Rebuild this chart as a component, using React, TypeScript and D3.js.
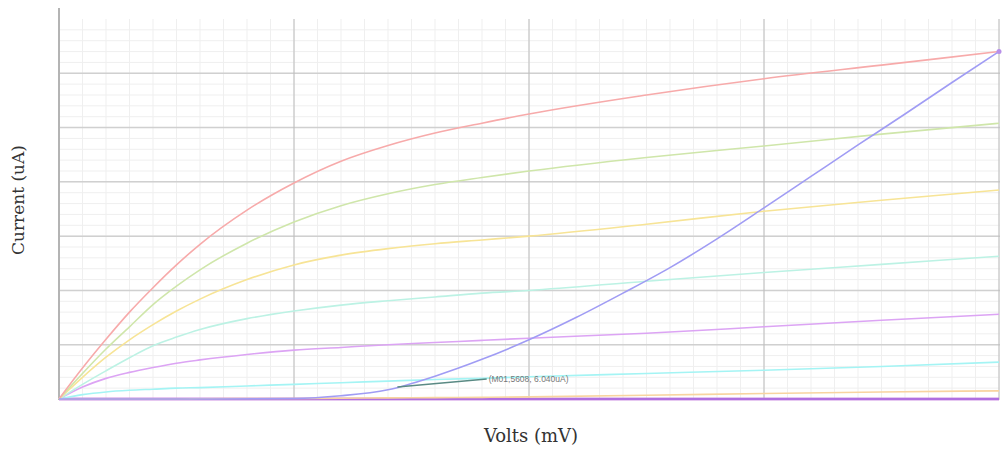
import React from 'react';
import * as d3 from 'd3';

// sweep points (major grid units on x, major grid units on y)
const sweep = [0, 0.1, 0.2, 0.3, 0.4, 0.5, 0.6, 0.8, 1.0, 1.2, 1.4, 1.6, 1.8, 2.0, 2.5, 3.0, 3.5, 4.0];

const redVals = [0, 0.57, 1.1, 1.6, 2.05, 2.47, 2.85, 3.48, 3.98, 4.38, 4.67, 4.9, 5.08, 5.25, 5.6, 5.9, 6.15, 6.4];
const greenVals = [0, 0.47, 0.92, 1.33, 1.74, 2.08, 2.38, 2.87, 3.26, 3.56, 3.78, 3.95, 4.08, 4.2, 4.45, 4.66, 4.88, 5.08];
const yellowVals = [0, 0.4, 0.77, 1.09, 1.37, 1.62, 1.84, 2.2, 2.47, 2.65, 2.77, 2.86, 2.93, 3.0, 3.22, 3.46, 3.66, 3.85];
const mintVals = [0, 0.27, 0.52, 0.76, 0.98, 1.14, 1.28, 1.48, 1.62, 1.73, 1.81, 1.88, 1.95, 2.0, 2.17, 2.33, 2.48, 2.63];
const violetVals = [0, 0.22, 0.38, 0.49, 0.58, 0.66, 0.72, 0.82, 0.9, 0.95, 1.0, 1.04, 1.08, 1.12, 1.21, 1.33, 1.45, 1.56];
const cyanVals = [0, 0.08, 0.13, 0.16, 0.18, 0.2, 0.21, 0.24, 0.27, 0.3, 0.33, 0.36, 0.38, 0.41, 0.47, 0.53, 0.6, 0.68];
const orangeVals = [0, 0, 0, 0, 0, 0, 0.005, 0.01, 0.01, 0.015, 0.02, 0.025, 0.03, 0.04, 0.07, 0.1, 0.13, 0.15];
const offVals = [0, 0, 0, 0, 0, 0, 0, 0, 0, 0, 0, 0, 0, 0, 0, 0, 0, 0];

const diodeX = [0, 0.5, 1.0, 1.2, 1.4, 1.6, 1.8, 2.0, 2.2, 2.4, 2.6, 2.8, 3.0, 3.2, 3.4, 3.6, 3.8, 4.0];
const diodeVals = [0, 0, 0.01, 0.06, 0.17, 0.42, 0.73, 1.09, 1.5, 1.95, 2.42, 2.95, 3.52, 4.1, 4.68, 5.25, 5.83, 6.4];

const seriesNames = ['off1', 'off2', 'orange', 'cyan', 'violet', 'mint', 'yellow', 'green', 'red'];
const seriesColors = ['#e89ae0', '#b070e0', '#f8d4a0', '#a4f4f4', '#dca4f4', '#bcf2e4', '#f7e496', '#cfe6aa', '#f7aaaa'];
const seriesValues = [offVals, offVals, orangeVals, cyanVals, violetVals, mintVals, yellowVals, greenVals, redVals];

const markerLabel = '(M01,5608, 6.040uA)';
const markerPoint = [1.44, 0.22];
const markerLabelAt = [1.82, 0.37];

const W = 1003;
const H = 449;
const left = 59;
const right = 999;
const top = 19;
const bottom = 399;

export default function App() {
  const x = d3.scaleLinear().domain([0, 4]).range([left, right]);
  const y = d3.scaleLinear().domain([0, 7]).range([bottom, top]);

  const line = d3
    .line<[number, number]>()
    .x((d) => x(d[0]))
    .y((d) => y(d[1]))
    .curve(d3.curveMonotoneX);

  const minorX = d3.range(0, 40.5, 1).map((i) => i / 10);
  const minorY = d3.range(0, 34.5, 1).map((i) => i / 5);
  const majorX = d3.range(1, 4.5, 1);
  const majorY = d3.range(1, 6.5, 1);

  return (
    <svg width={W} height={H} style={{ position: 'absolute', left: 0, top: 0, background: '#fff' }}>
      {/* minor grid */}
      <g stroke="#efefef" strokeWidth={1}>
        {minorX.map((v, i) => (
          <line key={'mx' + i} x1={x(v)} x2={x(v)} y1={top} y2={bottom} />
        ))}
        {minorY.map((v, i) => (
          <line key={'my' + i} x1={left} x2={right + 1} y1={y(v)} y2={y(v)} />
        ))}
      </g>
      {/* major grid */}
      <g stroke="#d0d0d0" strokeWidth={1.5}>
        {majorY.map((v, i) => (
          <line key={'My' + i} x1={left} x2={right + 1} y1={y(v)} y2={y(v)} />
        ))}
      </g>
      <g stroke="#bcbcbc" strokeWidth={1}>
        {majorX.map((v, i) => (
          <line key={'Mx' + i} x1={x(v)} x2={x(v)} y1={top} y2={bottom} />
        ))}
      </g>
      <line x1={left} x2={right + 1} y1={bottom} y2={bottom} stroke="#d6d6d6" strokeWidth={1.5} />
      <line x1={left} x2={left} y1={8} y2={bottom + 1} stroke="#b4b4b4" strokeWidth={2} />

      {/* curves */}
      {seriesNames.map((name, i) => (
        <path
          key={name}
          d={line(sweep.map((s, j) => [s, seriesValues[i][j]] as [number, number])) || ''}
          fill="none"
          stroke={seriesColors[i]}
          strokeWidth={name.startsWith('off') ? 2.5 : 1.6}
        />
      ))}
      <path
        d={line(diodeX.map((s, j) => [s, diodeVals[j]] as [number, number])) || ''}
        fill="none"
        stroke="#a09cf4"
        strokeWidth={1.6}
      />
      <circle cx={x(4)} cy={y(6.4)} r={2.5} fill="#b890e8" />

      {/* marker */}
      <line
        x1={x(markerPoint[0])}
        y1={y(markerPoint[1])}
        x2={x(markerLabelAt[0])}
        y2={y(markerLabelAt[1])}
        stroke="#5a8a84"
        strokeWidth={1.5}
      />
      <text
        x={x(markerLabelAt[0]) + 2}
        y={y(markerLabelAt[1]) + 3}
        fontFamily="'Liberation Sans', sans-serif"
        fontSize={8.5}
        fill="#777"
      >
        {markerLabel}
      </text>

      {/* axis titles */}
      <text
        x={(left + right) / 2 + 2}
        y={442}
        textAnchor="middle"
        fontFamily="'DejaVu Serif', serif"
        fontSize={18}
        fill="#333"
      >
        Volts (mV)
      </text>
      <text
        transform={`translate(24,${(top + bottom) / 2 - 9}) rotate(-90)`}
        textAnchor="middle"
        fontFamily="'DejaVu Serif', serif"
        fontSize={17}
        fill="#333"
      >
        Current (uA)
      </text>
    </svg>
  );
}
